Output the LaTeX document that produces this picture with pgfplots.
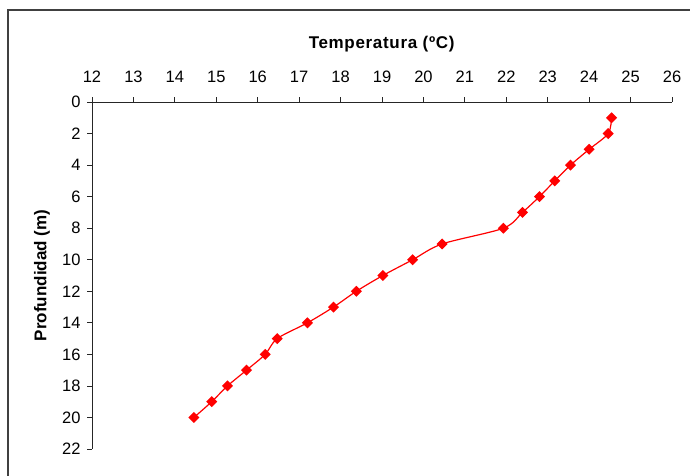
\documentclass[border=0pt]{standalone}
\usepackage{pgfplots}
\pgfplotsset{compat=1.18}
\usepackage{fontspec}
\setmainfont{Liberation Sans}

\begin{document}
\begin{tikzpicture}
\useasboundingbox (0pt,0pt) rectangle (690pt,-475pt);
\draw[line width=1.6pt, black!75] (8pt,-10pt) rectangle (702pt,-490pt);
\begin{axis}[
  at={(92pt,-449pt)}, anchor=south west,
  scale only axis,
  width=580pt, height=347pt,
  xmin=12, xmax=26, ymin=0, ymax=22,
  y dir=reverse,
  xtick={12,...,26}, ytick={0,2,...,22},
  axis x line*=top, axis y line*=left,
  axis line style={line width=0.8pt, black!85, -},
  tick align=outside, major tick length=5pt,
  tick style={line width=0.8pt, black!85},
  /pgf/number format/assume math mode=true,
  ticklabel style={font=\fontsize{16.5}{18}\selectfont},
  xticklabel style={yshift=11pt},
  yticklabel style={xshift=-3pt},
  xlabel={\textbf{Temperatura (ºC)}},
  ylabel={\textbf{Profundidad (m)}},
  xlabel style={font=\fontsize{17}{19}\selectfont\addfontfeatures{LetterSpace=4},
    at={(axis description cs:0.5,1)}, anchor=base, yshift=54pt},
  ylabel style={font=\fontsize{17}{19}\selectfont,
    at={(axis description cs:-0.0862,0.5)}, anchor=center},
  clip=false]
\addplot[red, line width=1.2pt, smooth, tension=0.5,
  mark=square*, mark size=3.3pt, mark options={rotate=45, solid, fill=red}]
  coordinates {
  (24.54,1) (24.46,2) (24.00,3) (23.55,4) (23.17,5) (22.80,6) (22.39,7)
  (21.93,8) (20.45,9) (19.74,10) (19.02,11) (18.38,12) (17.83,13) (17.20,14)
  (16.47,15) (16.18,16) (15.73,17) (15.27,18) (14.89,19) (14.46,20)
};
\end{axis}
\end{tikzpicture}
\end{document}
